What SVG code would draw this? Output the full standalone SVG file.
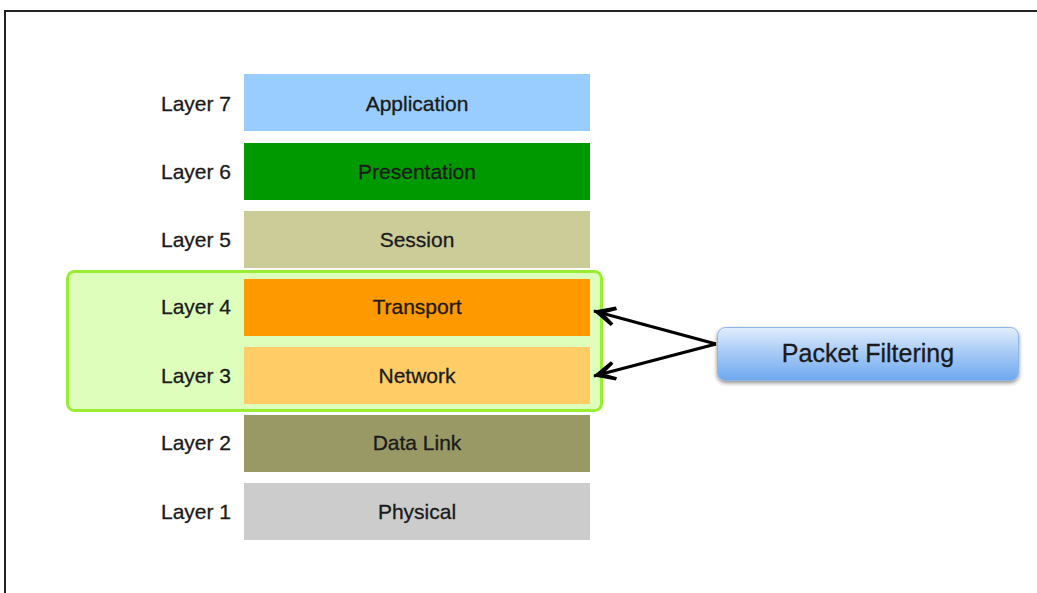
<svg xmlns="http://www.w3.org/2000/svg" width="1037" height="593" viewBox="0 0 1037 593">
  <defs>
    <linearGradient id="pfFill" x1="0" y1="0" x2="0" y2="1">
      <stop offset="0" stop-color="#e2eefc"/>
      <stop offset="0.45" stop-color="#a9ccf6"/>
      <stop offset="1" stop-color="#6ea8ee"/>
    </linearGradient>
    <filter id="shadow" x="-10%" y="-20%" width="120%" height="150%">
      <feGaussianBlur in="SourceAlpha" stdDeviation="2"/>
      <feOffset dx="0" dy="2" result="b"/>
      <feComponentTransfer><feFuncA type="linear" slope="0.45"/></feComponentTransfer>
      <feMerge><feMergeNode/><feMergeNode in="SourceGraphic"/></feMerge>
    </filter>
    <marker id="arrow" viewBox="0 0 24 22" refX="23" refY="11" markerWidth="24" markerHeight="22" markerUnits="userSpaceOnUse" orient="auto">
      <path d="M24,11 L3,1 L1,4 L13,11 L1,18 L3,21 Z" fill="#000"/>
    </marker>
  </defs>
  <style>
    .lbl { font-family: "Liberation Sans", Arial, sans-serif; font-size: 21px; fill: #1a1a1a; stroke: #1a1a1a; stroke-width: 0.3; }
    .side { text-anchor: end; }
    .mid { text-anchor: middle; }
    .conn { stroke: #000; stroke-width: 3; fill: none; }
  </style>

  <rect width="1037" height="593" fill="#fff"/>
  <!-- outer frame -->
  <rect x="5" y="11" width="1040" height="600" fill="none" stroke="#222" stroke-width="2"/>

  <!-- highlight for layers 3 and 4 -->
  <g id="filter-zone">
    <rect x="67.5" y="271.5" width="534" height="139" rx="7" fill="#ddffbb" stroke="#99ee33" stroke-width="3"/>
  </g>

  <g id="layer7">
    <rect x="244" y="74" width="346" height="57" fill="#99ccff"/>
    <text class="lbl side" x="231" y="111">Layer 7</text>
    <text class="lbl mid" x="417" y="111">Application</text>
  </g>
  <g id="layer6">
    <rect x="244" y="143" width="346" height="57" fill="#009900"/>
    <text class="lbl side" x="231" y="179">Layer 6</text>
    <text class="lbl mid" x="417" y="179">Presentation</text>
  </g>
  <g id="layer5">
    <rect x="244" y="211" width="346" height="57" fill="#cccc99"/>
    <text class="lbl side" x="231" y="247">Layer 5</text>
    <text class="lbl mid" x="417" y="247">Session</text>
  </g>
  <g id="layer4">
    <rect x="244" y="279" width="346" height="57" fill="#ff9900"/>
    <text class="lbl side" x="231" y="314">Layer 4</text>
    <text class="lbl mid" x="417" y="314">Transport</text>
  </g>
  <g id="layer3">
    <rect x="244" y="347" width="346" height="57" fill="#ffcc66"/>
    <text class="lbl side" x="231" y="383">Layer 3</text>
    <text class="lbl mid" x="417" y="383">Network</text>
  </g>
  <g id="layer2">
    <rect x="244" y="415" width="346" height="57" fill="#999966"/>
    <text class="lbl side" x="231" y="450">Layer 2</text>
    <text class="lbl mid" x="417" y="450">Data Link</text>
  </g>
  <g id="layer1">
    <rect x="244" y="483" width="346" height="57" fill="#cccccc"/>
    <text class="lbl side" x="231" y="519">Layer 1</text>
    <text class="lbl mid" x="417" y="519">Physical</text>
  </g>

  <g id="packet-filtering">
    <rect x="717.5" y="327.5" width="301" height="53" rx="8" fill="url(#pfFill)" stroke="#8fb6e6" stroke-width="1" filter="url(#shadow)"/>
    <text class="lbl mid" x="868" y="362" style="font-size:25px">Packet Filtering</text>
  </g>

  <g id="connectors">
    <line class="conn" x1="716" y1="344" x2="594" y2="311" marker-end="url(#arrow)"/>
    <line class="conn" x1="716" y1="344" x2="594" y2="376" marker-end="url(#arrow)"/>
  </g>
</svg>
